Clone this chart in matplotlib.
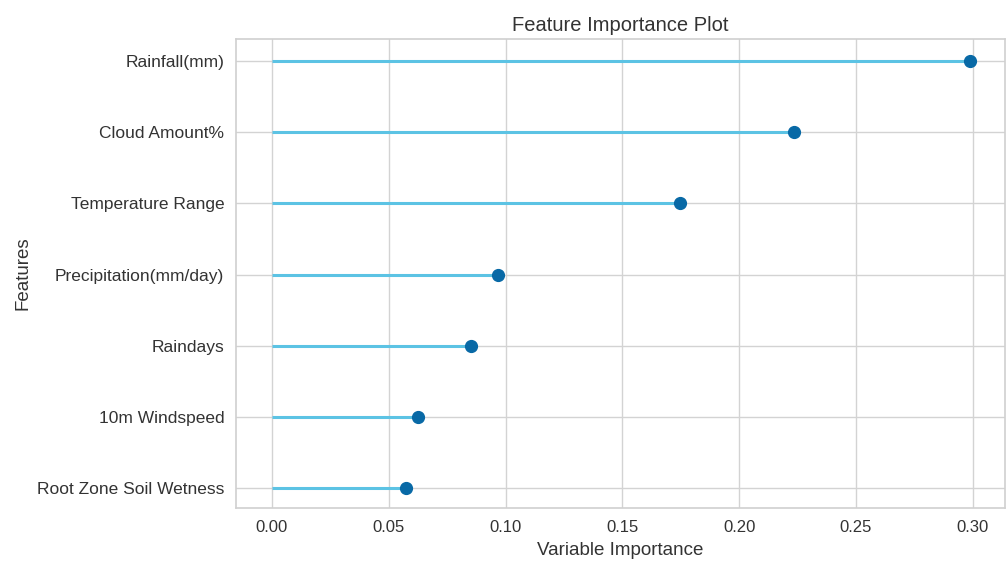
import matplotlib
matplotlib.use("Agg")
import matplotlib.pyplot as plt

features = ["Root Zone Soil Wetness", "10m Windspeed", "Raindays",
            "Precipitation(mm/day)", "Temperature Range", "Cloud Amount%",
            "Rainfall(mm)"]
importance = [0.0574, 0.0625, 0.0852, 0.0967, 0.1747, 0.2235, 0.2988]
xticks = [0.00, 0.05, 0.10, 0.15, 0.20, 0.25, 0.30]

plt.rcParams['font.family'] = ['Liberation Sans', 'DejaVu Sans']

fig = plt.figure(figsize=(10.06, 5.65), dpi=100)
ax = fig.add_axes([0.2346, 0.101, 0.7644, 0.830])

ypos = list(range(len(features)))
ax.hlines(ypos, 0, importance, color="#5cc3e4", linewidth=2.2, zorder=2)
ax.plot(importance, ypos, "o", color="#0869a6", markersize=8.5, zorder=3)

ax.set_yticks(ypos)
ax.set_yticklabels(features)
ax.set_xticks(xticks)
ax.set_xticklabels([f"{v:.2f}" for v in xticks])
ax.set_xlim(-0.0154, 0.3138)
ax.set_ylim(-0.28, 6.31)

ax.grid(True, color="#d3d3d3", linewidth=1.0, zorder=0)
ax.set_axisbelow(True)
for s in ax.spines.values():
    s.set_color("#d0d0d0")
    s.set_linewidth(1.2)
ax.tick_params(axis="x", length=0, labelsize=12, colors="#333333", pad=9)
ax.tick_params(axis="y", length=0, labelsize=12.5, colors="#333333", pad=8.5)

ax.set_title("Feature Importance Plot", fontsize=14.5, color="#333333", pad=6)
ax.set_xlabel("Variable Importance", fontsize=13.5, color="#333333", labelpad=5)
ax.set_ylabel("Features", fontsize=13.5, color="#333333", labelpad=4)

fig.savefig("out.png", dpi=100)
